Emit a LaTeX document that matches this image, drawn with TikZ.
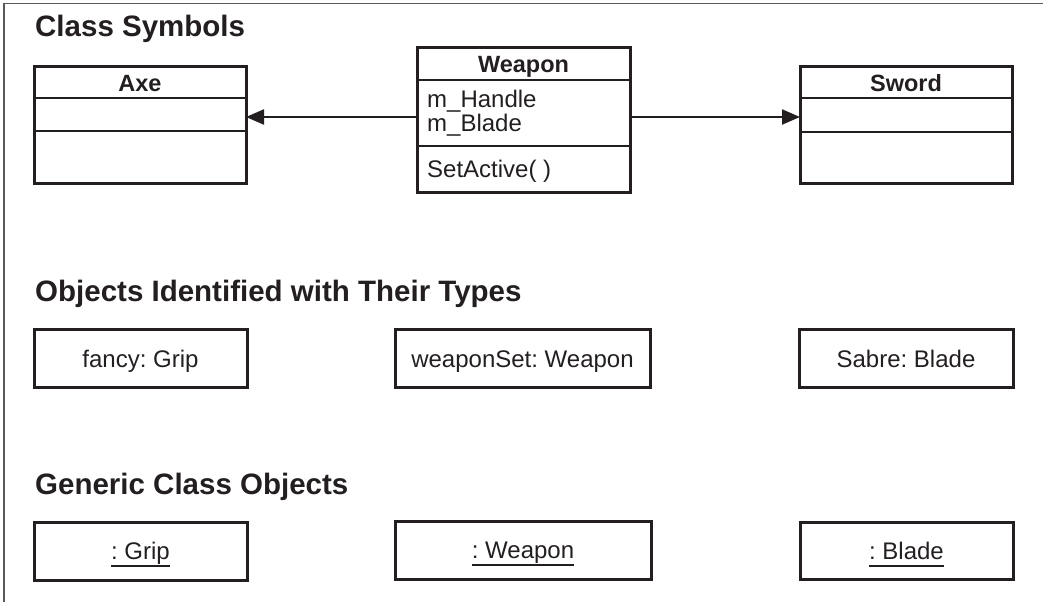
\documentclass[tikz,border=0pt]{standalone}
\usepackage{fontspec}
\setmainfont{Liberation Sans}
\usetikzlibrary{arrows.meta}
\definecolor{ink}{HTML}{231F20}
\frenchspacing
\tikzset{
  boxshape/.style={draw=ink, line width=3pt, inner sep=0pt, outer sep=0pt},
  divider/.style={draw=ink, line width=2.2pt},
  sectitle/.style={anchor=base west, inner sep=0pt, font=\fontsize{29.5}{30}\selectfont\bfseries, text=ink},
  clstitle/.style={anchor=base, inner sep=0pt, font=\fontsize{23.5}{24}\selectfont\bfseries, text=ink},
  member/.style={anchor=base west, inner sep=0pt, font=\fontsize{24}{24}\selectfont, text=ink},
  objtext/.style={anchor=base, inner sep=0pt, font=\fontsize{24}{24}\selectfont, text=ink},
  assoc/.style={draw=ink, line width=2.2pt, -{Triangle[length=18pt,width=15pt]}},
  uline/.style={draw=ink, line width=2.4pt},
  frameline/.style={draw=ink!75, line width=1.5pt}
}
\begin{document}
\frenchspacing
\begin{tikzpicture}[x=1pt,y=-1pt]
\useasboundingbox (0,0) rectangle (1043,602);
% frame
\coordinate (fbl) at (4,602);
\coordinate (ftl) at (4,3.5);
\coordinate (ftr) at (1043,3.5);
\draw[frameline] (fbl) -- (ftl) -- (ftr);

% section titles
\node[sectitle] (t1) at (35,37) {Class Symbols};
\node[sectitle] (t2) at (35,301) {Objects Identified with Their Types};
\node[sectitle] (t3) at (35,494) {Generic Class Objects};

% class boxes
\node[boxshape, minimum width=212pt, minimum height=117pt] (axe) at (140,124.5) {};
\node[boxshape, minimum width=213pt, minimum height=144pt] (weapon) at (523.5,120) {};
\node[boxshape, minimum width=212pt, minimum height=117pt] (sword) at (906,124.5) {};

\draw[divider] (axe.west |- 0,98) -- (axe.east |- 0,98);
\draw[divider] (axe.west |- 0,131) -- (axe.east |- 0,131);
\draw[divider] (weapon.west |- 0,80) -- (weapon.east |- 0,80);
\draw[divider] (weapon.west |- 0,146) -- (weapon.east |- 0,146);
\draw[divider] (sword.west |- 0,98) -- (sword.east |- 0,98);
\draw[divider] (sword.west |- 0,132) -- (sword.east |- 0,132);

\node[clstitle] (axename) at (140,91) {Axe};
\node[clstitle] (weaponname) at (523.5,73) {Weapon};
\node[clstitle] (swordname) at (906,91) {Sword};
\node[member] (mh) at (427,107) {m\_Handle};
\node[member] (mb) at (427,131) {m\_Blade};
\node[member] (sa) at (427,177) {SetActive( )};

\draw[assoc] (weapon.west |- 0,117) -- (axe.east |- 0,117);
\draw[assoc] (weapon.east |- 0,117) -- (sword.west |- 0,117);

% objects with types
\node[boxshape, minimum width=213pt, minimum height=58pt] (fancy) at (140.5,358) {};
\node[boxshape, minimum width=255pt, minimum height=58pt] (wset) at (522.5,358) {};
\node[boxshape, minimum width=214pt, minimum height=58pt] (sabre) at (906,358) {};
\node[objtext] (fancyt) at (fancy.center |- 0,367) {fancy: Grip};
\node[objtext] (wsett) at (wset.center |- 0,367) {weaponSet: Weapon};
\node[objtext] (sabret) at (sabre.center |- 0,367) {Sabre: Blade};

% generic objects
\node[boxshape, minimum width=213pt, minimum height=58pt] (grip) at (140.5,551) {};
\node[boxshape, minimum width=256pt, minimum height=58pt] (wgen) at (523,550) {};
\node[boxshape, minimum width=213pt, minimum height=57pt] (blade) at (906.5,550.5) {};
\node[objtext] (gript) at (grip.center |- 0,559) {: Grip};
\node[objtext] (wgent) at (wgen.center |- 0,558) {: Weapon};
\node[objtext] (bladet) at (blade.center |- 0,559) {: Blade};
\draw[uline] ([yshift=-7pt]gript.base west) -- ([yshift=-7pt]gript.base east);
\draw[uline] ([yshift=-7pt]wgent.base west) -- ([yshift=-7pt]wgent.base east);
\draw[uline] ([yshift=-7pt]bladet.base west) -- ([yshift=-7pt]bladet.base east);
\end{tikzpicture}
\end{document}
